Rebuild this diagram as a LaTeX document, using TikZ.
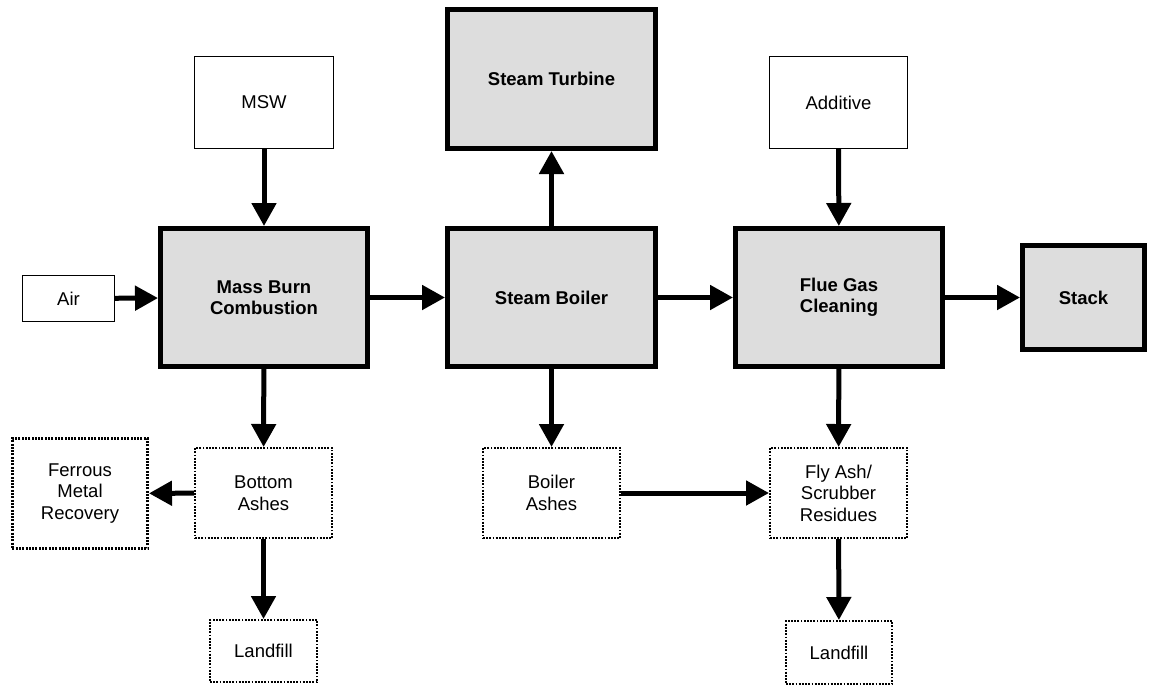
\documentclass[tikz,border=0pt]{standalone}
\usepackage{fontspec}
\setmainfont{Liberation Sans}
\usetikzlibrary{arrows.meta}
\definecolor{boxgray}{RGB}{221,221,221}
\begin{document}
\begin{tikzpicture}[x=1pt,y=-1pt,
  base/.style={rectangle, align=center, inner sep=0pt,
    font=\fontsize{18.5}{21.5}\selectfont},
  inbox/.style={base, draw, line width=1.3pt},
  unit/.style={base, draw, fill=boxgray, line width=5pt,
    font=\fontsize{18.5}{21.5}\selectfont\bfseries},
  residue/.style={base, draw, line width=1.8pt, dash pattern=on 1.8pt off 1.4pt},
  flow/.style={line width=5pt, -{Triangle[length=23pt,width=24pt]}},
]
\useasboundingbox (0,0) rectangle (1151,686);

% inputs
\node[inbox, minimum width=138.7pt, minimum height=91.7pt] (msw) at (264,102.5) {MSW};
\node[inbox, minimum width=91.7pt, minimum height=45.7pt] (air) at (68.5,298.5) {Air};
\node[inbox, minimum width=137.7pt, minimum height=91.7pt] (additive) at (838.5,102.5) {Additive};

% process units
\node[unit, minimum width=208pt, minimum height=139pt] (turbine) at (551.5,79) {Steam Turbine};
\node[unit, minimum width=207pt, minimum height=138pt] (combust) at (264,297.5) {Mass Burn\\Combustion};
\node[unit, minimum width=208pt, minimum height=138pt] (boiler) at (551.5,297.5) {Steam Boiler};
\node[unit, minimum width=207pt, minimum height=138pt] (flue) at (839,297.5) {Flue Gas\\Cleaning};
\node[unit, minimum width=122pt, minimum height=104pt] (stack) at (1083.5,297.5) {Stack};

% residues
\node[residue, line width=2.7pt, dash pattern=on 2pt off 1.3pt,
  minimum width=135.3pt, minimum height=110.3pt] (ferrous) at (80,493.5) {Ferrous\\Metal\\Recovery};
\node[residue, minimum width=137.2pt, minimum height=90.2pt] (bottom) at (263.5,493) {Bottom\\Ashes};
\node[residue, minimum width=137.2pt, minimum height=90.2pt] (bashes) at (551.5,493) {Boiler\\Ashes};
\node[residue, minimum width=137.2pt, minimum height=90.2pt] (flyash) at (838.5,493) {Fly Ash/\\Scrubber\\Residues};
\node[residue, minimum width=107.2pt, minimum height=62.2pt] (land1) at (263.5,651) {Landfill};
\node[residue, minimum width=106.2pt, minimum height=63.2pt] (land2) at (839,652.5) {Landfill};

% material and energy flows
\draw[flow] (msw) -- (combust);
\draw[flow] (air) -- (combust);
\draw[flow] (additive) -- (flue);
\draw[flow] (combust) -- (boiler);
\draw[flow] (boiler) -- (flue);
\draw[flow] (flue) -- (stack);
\draw[flow] (boiler) -- (turbine);
\draw[flow] (combust) -- (bottom);
\draw[flow] (boiler) -- (bashes);
\draw[flow] (flue) -- (flyash);
\draw[flow] (bottom) -- (ferrous);
\draw[flow] (bashes) -- (flyash);
\draw[flow] (bottom) -- (land1);
\draw[flow] (flyash) -- (land2);
\end{tikzpicture}
\end{document}
